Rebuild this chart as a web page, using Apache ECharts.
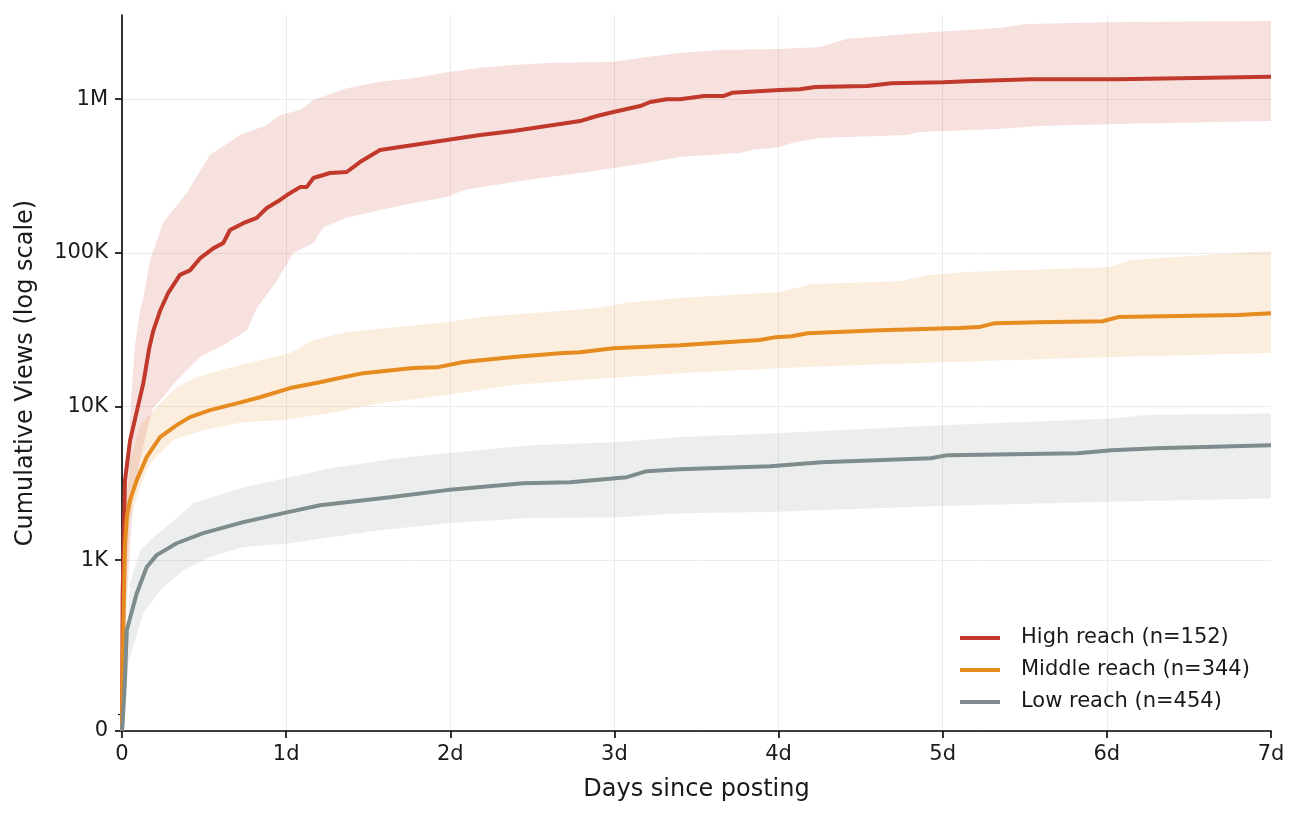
<!DOCTYPE html>
<html>
<head>
<meta charset="utf-8">
<script src="https://cdn.jsdelivr.net/npm/echarts@6/dist/echarts.min.js"></script>
<style>
  html, body { margin: 0; padding: 0; background: #fff; }
  #chart { width: 1305px; height: 822px; }
</style>
</head>
<body>
<div id="chart"></div>
<script>
// [day, cumulative views]
const highMedian = [[0,0],[0.004,600],[0.018,3300],[0.049,6000],[0.13,14200],[0.166,24000],[0.19,31000],[0.232,42000],[0.282,55000],[0.353,72000],[0.414,77000],[0.475,92000],[0.556,107000],[0.617,116000],[0.658,141000],[0.739,156000],[0.821,169000],[0.882,196000],[0.963,221000],[1.005,238000],[1.085,268000],[1.125,268000],[1.166,307000],[1.267,331000],[1.369,336000],[1.45,390000],[1.572,467000],[1.775,503000],[1.979,542000],[2.182,585000],[2.385,621000],[2.588,669000],[2.791,721000],[2.893,778000],[2.994,826000],[3.157,903000],[3.218,959000],[3.319,1000000],[3.4,1000000],[3.546,1050000],[3.667,1050000],[3.716,1100000],[4.007,1150000],[4.129,1160000],[4.225,1200000],[4.541,1220000],[4.687,1270000],[5.002,1290000],[5.148,1310000],[5.536,1350000],[6.07,1350000],[7,1400000]];
const highUpper = [[0,0],[0.009,1000],[0.03,3300],[0.055,11000],[0.079,25000],[0.11,42000],[0.13,51000],[0.171,90000],[0.252,159000],[0.394,245000],[0.536,433000],[0.719,585000],[0.882,679000],[0.963,788000],[1.085,851000],[1.166,988000],[1.369,1180000],[1.572,1300000],[1.775,1370000],[1.979,1500000],[2.182,1600000],[2.385,1670000],[2.588,1720000],[2.994,1750000],[3.197,1880000],[3.4,2000000],[3.643,2090000],[4.007,2120000],[4.25,2190000],[4.42,2470000],[4.856,2700000],[5.342,2910000],[5.512,3090000],[6.07,3180000],[7,3230000]];
const highLower = [[0,0],[0.006,64],[0.03,550],[0.067,2460],[0.11,4480],[0.152,7000],[0.189,9800],[0.25,11500],[0.335,14900],[0.475,21000],[0.64,25900],[0.762,31400],[0.823,44000],[0.945,66000],[1.044,100000],[1.166,116000],[1.227,147000],[1.369,169000],[1.572,190000],[1.775,211000],[1.979,231000],[2.08,256000],[2.385,289000],[2.588,311000],[2.791,331000],[2.994,357000],[3.197,384000],[3.4,420000],[3.765,446000],[3.838,467000],[4.007,488000],[4.08,518000],[4.25,559000],[4.784,585000],[4.857,611000],[5.342,640000],[5.585,670000],[6.07,690000],[7,721000]];

const midMedian = [[0,0],[0.003,170],[0.009,406],[0.018,1250],[0.03,1960],[0.049,2460],[0.09,3320],[0.15,4690],[0.232,6330],[0.333,7570],[0.414,8540],[0.536,9480],[0.699,10500],[0.841,11500],[1.024,13200],[1.207,14400],[1.267,14900],[1.47,16500],[1.775,17800],[1.918,18000],[2.08,19500],[2.385,21000],[2.689,22300],[2.791,22600],[2.994,24000],[3.4,25100],[3.886,27100],[3.983,28300],[4.08,28700],[4.177,30000],[4.614,31400],[5.1,32400],[5.221,32900],[5.318,34900],[5.585,35400],[5.973,35900],[6.07,38200],[6.798,39400],[7,40500]];
const midUpper = [[0,0],[0.006,550],[0.018,1820],[0.049,4500],[0.11,7600],[0.211,9900],[0.333,13400],[0.455,15500],[0.597,17200],[0.8,19500],[1.024,22300],[1.166,27100],[1.369,30500],[1.674,32900],[1.979,35400],[2.182,38200],[2.588,41200],[2.893,43700],[3.096,47800],[3.4,50800],[4.007,55600],[4.202,62700],[4.736,65500],[4.906,71600],[5.148,75000],[6.022,80800],[6.143,89800],[6.798,100000],[7,103000]];
const midLower = [[0,0],[0.006,123],[0.012,406],[0.049,1820],[0.11,2990],[0.171,4280],[0.311,6040],[0.494,7000],[0.737,7900],[0.963,8150],[1.268,9060],[1.572,10500],[1.979,11900],[2.383,13800],[2.791,14900],[3.4,16500],[4.129,18000],[4.857,19200],[5.828,20700],[7,22300]];

const lowMedian = [[0,0],[0.004,50],[0.018,166],[0.029,350],[0.09,610],[0.15,900],[0.211,1080],[0.333,1290],[0.495,1500],[0.739,1770],[1.004,2050],[1.207,2280],[1.633,2570],[1.979,2860],[2.445,3170],[2.73,3220],[3.076,3470],[3.197,3800],[3.4,3910],[3.949,4090],[4.261,4340],[4.926,4610],[5.03,4830],[5.821,4970],[6.029,5200],[6.299,5360],[7,5610]];
const lowUpper = [[0,0],[0.018,201],[0.049,708],[0.11,1160],[0.191,1410],[0.333,1870],[0.433,2350],[0.739,2990],[1.024,3470],[1.268,3970],[1.674,4610],[1.979,4970],[2.486,5610],[2.994,5870],[3.4,6330],[3.949,6680],[4.988,7570],[6.029,8370],[6.236,8800],[7,9000]];
const lowLower = [[0,0],[0.01,60],[0.038,213],[0.13,452],[0.232,638],[0.374,861],[0.536,1050],[0.739,1220],[1.024,1290],[1.268,1410],[1.572,1570],[1.979,1740],[2.486,1880],[2.994,1900],[3.4,2020],[3.949,2060],[4.988,2250],[6.029,2400],[7,2520]];

const groupNames = ['High reach (n=152)', 'Middle reach (n=344)', 'Low reach (n=454)'];
const groupColors = ['#c0392b', '#e68b1f', '#7f8c8d'];
const bandColors = ['rgba(192,57,43,0.15)', 'rgba(230,139,31,0.15)', 'rgba(127,140,141,0.15)'];
const viewTickLabels = ['0', '1K', '10K', '100K', '1M'];

// symlog, linthresh 100, linscale 0.1
const LIN = 0.1 / 0.9;
const T0 = 2 - LIN;
const tv = v => v >= 100 ? Math.log10(v) : 2 + (v / 100 - 1) * LIN;
const viewTicks = [T0, 3, 4, 5, 6];
const toSeries = arr => arr.map(p => [p[0], tv(p[1])]);

const chart = echarts.init(document.getElementById('chart'));

const bandSeries = (upper, lower, color) => ({
    type: 'custom',
    silent: true,
    clip: true,
    data: [[0, T0]],
    renderItem: (params, api) => {
        const top = upper.map(p => api.coord([p[0], tv(p[1])]));
        const bottom = lower.slice().reverse().map(p => api.coord([p[0], tv(p[1])]));
        return {
            type: 'polygon',
            shape: { points: top.concat(bottom) },
            style: { fill: color, stroke: null }
        };
    }
});

const lineSeries = (name, data, color) => ({
    type: 'line',
    name,
    data: toSeries(data),
    showSymbol: false,
    symbol: 'none',
    lineStyle: { width: 4, color },
    itemStyle: { color },
    z: 3
});

const textColor = '#1a1a1a';
const font = 'DejaVu Sans';

chart.setOption({
    animation: false,
    textStyle: { fontFamily: font },
    grid: { left: 122, right: 34, top: 15, bottom: 91 },
    legend: {
        orient: 'vertical',
        left: 955,
        top: 622,
        icon: 'rect',
        itemWidth: 40,
        itemHeight: 4,
        itemGap: 10,
        data: groupNames,
        textStyle: { fontSize: 21, color: textColor, fontFamily: font, padding: [0, 0, 0, 16], lineHeight: 22 }
    },
    xAxis: {
        type: 'value',
        min: 0,
        max: 7,
        interval: 1,
        name: 'Days since posting',
        nameLocation: 'middle',
        nameGap: 47,
        nameTextStyle: { fontSize: 24, color: textColor, fontFamily: font },
        axisLine: { lineStyle: { color: '#000', width: 1.6 } },
        axisTick: { show: true, inside: false, length: 7, lineStyle: { color: '#000', width: 1.6 } },
        axisLabel: { fontSize: 21, color: textColor, margin: 13, formatter: v => v === 0 ? '0' : v + 'd' },
        splitLine: { show: true, showMaxLine: false, lineStyle: { color: '#ececec', width: 1 } }
    },
    yAxis: [{
        type: 'value',
        min: T0,
        max: 6.548,
        name: 'Cumulative Views (log scale)',
        nameLocation: 'middle',
        nameRotate: 90,
        nameGap: 84,
        nameTextStyle: { fontSize: 24, color: textColor, fontFamily: font },
        axisLine: { show: true, lineStyle: { color: '#000', width: 1.6 } },
        axisTick: { show: true, length: 7, customValues: viewTicks, lineStyle: { color: '#000', width: 1.6 } },
        axisLabel: {
            fontSize: 21, color: textColor, margin: 14,
            customValues: viewTicks,
            formatter: v => viewTickLabels[viewTicks.findIndex(t => Math.abs(t - v) < 1e-6)] || ''
        },
        splitLine: { show: true, lineStyle: { color: '#ececec', width: 1 } }
    }, {
        type: 'value',
        min: T0,
        max: 6.548,
        position: 'left',
        axisLine: { show: false },
        axisTick: { show: true, length: 4, customValues: [2], lineStyle: { color: '#000', width: 1.2 } },
        axisLabel: { show: false },
        splitLine: { show: false }
    }],
    series: [
        bandSeries(highUpper, highLower, bandColors[0]),
        bandSeries(midUpper, midLower, bandColors[1]),
        bandSeries(lowUpper, lowLower, bandColors[2]),
        lineSeries(groupNames[0], highMedian, groupColors[0]),
        lineSeries(groupNames[1], midMedian, groupColors[1]),
        lineSeries(groupNames[2], lowMedian, groupColors[2])
    ]
});

window.addEventListener('resize', () => chart.resize());
</script>
</body>
</html>
